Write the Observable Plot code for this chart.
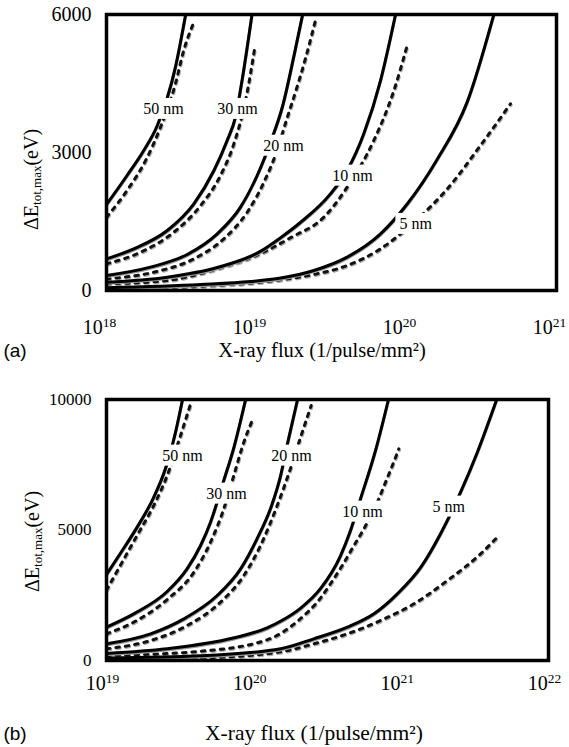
<!DOCTYPE html>
<html><head><meta charset="utf-8">
<script src="https://cdn.jsdelivr.net/npm/d3@7"></script>
<script src="https://cdn.jsdelivr.net/npm/@observablehq/plot@0.6"></script>
<style>
body{margin:0;background:#fff;}
#wrap{position:relative;width:569px;height:747px;background:#fff;}
#wrap svg{display:block;}
</style></head><body><div id="wrap"></div>
<script>
// ---------- Panel (a) data: [flux (1/pulse/mm^2), ΔE (eV)] ----------
const a5Solid  = [[1e18,59],[4.24e18,130],[9.12e18,196],[1.45e19,272],[2.41e19,435],[4.02e19,725],[6.71e19,1232],[1.01e20,1880],[1.60e20,2850],[2.54e20,4100],[3.82e20,6000]];
const a5Dot    = [[1e18,37],[4.24e18,93],[1.45e19,232],[2.41e19,348],[4.02e19,543],[6.71e19,906],[1.12e20,1485],[1.87e20,2210],[3.11e20,3152],[4.93e20,4058]];
const a10Solid = [[1e18,181],[2.54e18,290],[5.47e18,500],[1.06e19,850],[1.45e19,1150],[1.96e19,1478],[3.11e19,2101],[4.02e19,2609],[5.19e19,3406],[6.71e19,4565],[8.45e19,6000]];
const a10Dot   = [[1e18,145],[2.54e18,217],[5.47e18,471],[1.06e19,800],[1.69e19,1150],[2.81e19,1594],[4.02e19,2246],[6.05e19,3261],[8.24e19,4348],[1.01e20,5326]];
const a20Solid = [[1e18,326],[1.96e18,507],[3.45e18,783],[5.47e18,1232],[7.82e18,1812],[1.01e19,2500],[1.24e19,3225],[1.49e19,4000],[1.79e19,5150],[2.03e19,6000]];
const a20Dot   = [[1e18,254],[2.07e18,398],[3.82e18,689],[6.05e18,1124],[8.67e18,1702],[1.12e19,2354],[1.37e19,3043],[1.58e19,3696],[1.85e19,4391],[2.12e19,5043],[2.47e19,5870]];
const a30Solid = [[1e18,689],[1.52e18,906],[2.54e18,1304],[3.82e18,1884],[5.2e18,2609],[6.37e18,3261],[7.24e18,3768],[8.04e18,4600],[9.33e18,6000]];
const a30Dot   = [[1e18,580],[1.69e18,833],[2.81e18,1268],[4.24e18,1848],[5.75e18,2500],[7.06e18,3188],[8.45e18,4130],[9.75e18,5290]];
const a50Solid = [[1e18,1870],[1.37e18,2500],[1.77e18,3043],[2.18e18,3587],[2.88e18,4855],[3.37e18,6000]];
const a50Dot   = [[1e18,1594],[1.37e18,2174],[1.87e18,2898],[2.29e18,3551],[2.88e18,4493],[3.27e18,5217],[3.78e18,5797]];
const aLabels  = [["50 nm",2.4e18,3950],["30 nm",7.47e18,3950],["20 nm",1.51e19,3150],["10 nm",4.37e19,2500],["5 nm",1.15e20,1450]];
const aXTicks  = [1e18,1e19,1e20,1e21];
const aYTicks  = [0,3000,6000];

// ---------- Panel (b) data ----------
const b5Solid  = [[1e19,100],[4.35e19,180],[1.52e20,450],[2.55e20,831],[4.31e20,1276],[6.53e20,1789],[9.42e20,2555],[1.36e21,3574],[1.85e21,4854],[2.53e21,6449],[3.29e21,7981],[4.45e21,10000]];
const b5Dot    = [[1e19,38],[4.35e19,96],[1.52e20,330],[2.55e20,639],[4.31e20,1022],[7.24e20,1532],[1.22e21,2171],[2.06e21,3065],[3.46e21,4087],[4.49e21,4726]];
const b10Solid = [[1e19,270],[2.57e19,450],[7.24e19,860],[1.23e20,1250],[1.58e20,1560],[2.07e20,2000],[2.84e20,2760],[3.88e20,4020],[4.53e20,4980],[5.30e20,6200],[6.70e20,8050],[8.20e20,10000]];
const b10Dot   = [[1e19,192],[4.35e19,356],[1.23e20,793],[2.07e20,1600],[2.84e20,2400],[3.32e20,2950],[3.98e20,3639],[4.78e20,4406],[5.58e20,5045],[6.89e20,6065],[7.83e20,6831],[8.71e20,7470],[9.64e20,8110]];
const b20Solid = [[1e19,640],[1.99e19,1022],[3.35e19,1596],[5.64e19,2490],[8.13e19,3512],[1.05e20,4661],[1.32e20,5938],[1.52e20,7087],[1.69e20,8300],[1.98e20,10000]];
const b20Dot   = [[1e19,447],[1.99e19,766],[3.53e19,1341],[5.94e19,2235],[8.55e19,3256],[1.11e20,4406],[1.44e20,5938],[1.77e20,7342],[2.13e20,8748],[2.45e20,9769]];
const b30Solid = [[1e19,1280],[1.53e19,1788],[2.58e19,2643],[3.52e19,3512],[4.35e19,4406],[5.08e19,5300],[6.25e19,6900],[7.31e19,8150],[8.79e19,10000]];
const b30Dot   = [[1e19,1022],[1.53e19,1469],[2.58e19,2337],[3.92e19,3384],[5.08e19,4534],[6.25e19,5811],[7.31e19,7087],[8.55e19,8365],[9.75e19,9195]];
const b50Solid = [[1e19,3300],[1.24e19,4100],[1.61e19,5100],[2.09e19,6250],[2.51e19,7344],[2.94e19,8746],[3.28e19,10000]];
const b50Dot   = [[1e19,2700],[1.24e19,3640],[1.61e19,4789],[2.09e19,5938],[2.58e19,7087],[3.18e19,8620],[3.72e19,9834]];
const bLabels  = [["50 nm",3.28e19,7854],["30 nm",6.53e19,6398],["20 nm",1.80e20,7854],["10 nm",5.47e20,5708],["5 nm",2.10e21,5900]];
const bXTicks  = [1e19,1e20,1e21,1e22];
const bYTicks  = [0,5000,10000];

function toRows(list) {
  return list.flatMap(([name, pts]) => pts.map(([f, e]) => ({f, e, name})));
}

function panel(cfg) {
  const solid = toRows(cfg.solid);
  const dotted = toRows(cfg.dotted);
  const labels = cfg.labels.map(([t, f, e]) => ({t, f, e}));
  const svg = Plot.plot({
    width: 569, height: cfg.height,
    marginTop: cfg.mt, marginBottom: cfg.mb, marginLeft: 106, marginRight: cfg.mr,
    style: {fontFamily: "'Liberation Serif', 'Times New Roman', serif", fontSize: "20px", color: "#000", background: "#fff", overflow: "visible"},
    x: {type: "log", domain: cfg.xDomain},
    y: {domain: [0, cfg.yMax]},
    marks: [
      Plot.line(dotted, {x: "f", y: "e", z: "name", stroke: "#aaa", strokeWidth: 3, strokeDasharray: "3.5,6", dx: 0.8, dy: 1.2, curve: "monotone-x", clip: true}),
      Plot.line(dotted, {x: "f", y: "e", z: "name", stroke: "#111", strokeWidth: 3, strokeDasharray: "3.5,6", curve: "monotone-x", clip: true}),
      Plot.line(solid, {x: "f", y: "e", z: "name", stroke: "#999", strokeWidth: 3, dy: 1.2, curve: "monotone-x", clip: true}),
      Plot.line(solid, {x: "f", y: "e", z: "name", stroke: "#000", strokeWidth: 3, curve: "monotone-x", clip: true}),
      Plot.text(labels, {x: "f", y: "e", text: "t", fontSize: 16, fill: "#000", className: "curve-label"}),
      Plot.axisX({ticks: cfg.xTicks, tickFormat: d => "10^" + Math.round(Math.log10(d)), tickSize: 0, tickPadding: cfg.xPad, dx: cfg.xdx, fontSize: 20, label: null}),
      Plot.axisY({ticks: cfg.yTicks, tickFormat: d => String(d), tickSize: 0, tickPadding: 15, fontSize: cfg.yFont, label: null}),
      Plot.frame({stroke: "#000", strokeWidth: 3.5})
    ]
  });
  document.getElementById("wrap").appendChild(svg);
  const s = d3.select(svg);
  // superscript tick labels
  s.selectAll('g[aria-label="x-axis tick label"] text').each(function() {
    const txt = this.textContent;
    const exp = txt.split("^")[1];
    const t = d3.select(this);
    t.text("");
    t.append("tspan").text("10");
    t.append("tspan").attr("dy", "-7").attr("font-size", "13.5").text(exp);
  });
  // white boxes behind curve labels
  s.selectAll(".curve-label text").each(function() {
    const b = this.getBBox();
    const r = document.createElementNS("http://www.w3.org/2000/svg", "rect");
    r.setAttribute("x", b.x - 4); r.setAttribute("y", b.y - 2);
    r.setAttribute("width", b.width + 8); r.setAttribute("height", b.height + 4);
    r.setAttribute("fill", "#fff");
    const tr = this.getAttribute("transform");
    if (tr) r.setAttribute("transform", tr);
    this.parentNode.insertBefore(r, this);
  });
  // y-axis title with subscript (anchored at its lower end, reading upward)
  const yl = s.append("text")
    .attr("transform", `translate(${cfg.ylx},${cfg.ylBottom}) rotate(-90)`)
    .attr("text-anchor", "start").attr("font-size", 20).attr("fill", "#000")
    .attr("dominant-baseline", "central");
  yl.append("tspan").text("ΔE");
  yl.append("tspan").attr("dy", 5).attr("font-size", 13).text("tot,max");
  yl.append("tspan").attr("dy", -5).text("(eV)");
  // x-axis title and panel tag
  s.append("text").attr("x", cfg.tx).attr("y", cfg.ty).attr("text-anchor", "middle")
    .attr("font-size", cfg.tFont).attr("fill", "#000").attr("dominant-baseline", "central")
    .text("X-ray flux (1/pulse/mm²)");
  s.append("text").attr("x", 15).attr("y", cfg.ty).attr("font-size", 19)
    .attr("font-family", "'Liberation Sans', Arial, sans-serif").attr("fill", "#000")
    .attr("dominant-baseline", "central").text(cfg.tag);
}

panel({
  height: 370, mt: 14, mb: 80, mr: 13,
  xDomain: [1e18, 1e21], yMax: 6000, xTicks: aXTicks, yTicks: aYTicks,
  xPad: 29, xdx: -7, yFont: 20,
  solid: [["5 nm", a5Solid], ["10 nm", a10Solid], ["20 nm", a20Solid], ["30 nm", a30Solid], ["50 nm", a50Solid]],
  dotted: [["5 nm", a5Dot], ["10 nm", a10Dot], ["20 nm", a20Dot], ["30 nm", a30Dot], ["50 nm", a50Dot]],
  labels: aLabels, ylx: 31, ylBottom: 230, tx: 322, ty: 350, tFont: 20.5, tag: "(a)"
});
panel({
  height: 377, mt: 29, mb: 87, mr: 21,
  xDomain: [1e19, 1e22], yMax: 10000, xTicks: bXTicks, yTicks: bYTicks,
  xPad: 15, xdx: -4, yFont: 17,
  solid: [["5 nm", b5Solid], ["10 nm", b10Solid], ["20 nm", b20Solid], ["30 nm", b30Solid], ["50 nm", b50Solid]],
  dotted: [["5 nm", b5Dot], ["10 nm", b10Dot], ["20 nm", b20Dot], ["30 nm", b30Dot], ["50 nm", b50Dot]],
  labels: bLabels, ylx: 32, ylBottom: 222, tx: 314, ty: 363, tFont: 21.5, tag: "(b)"
});
</script></body></html>
